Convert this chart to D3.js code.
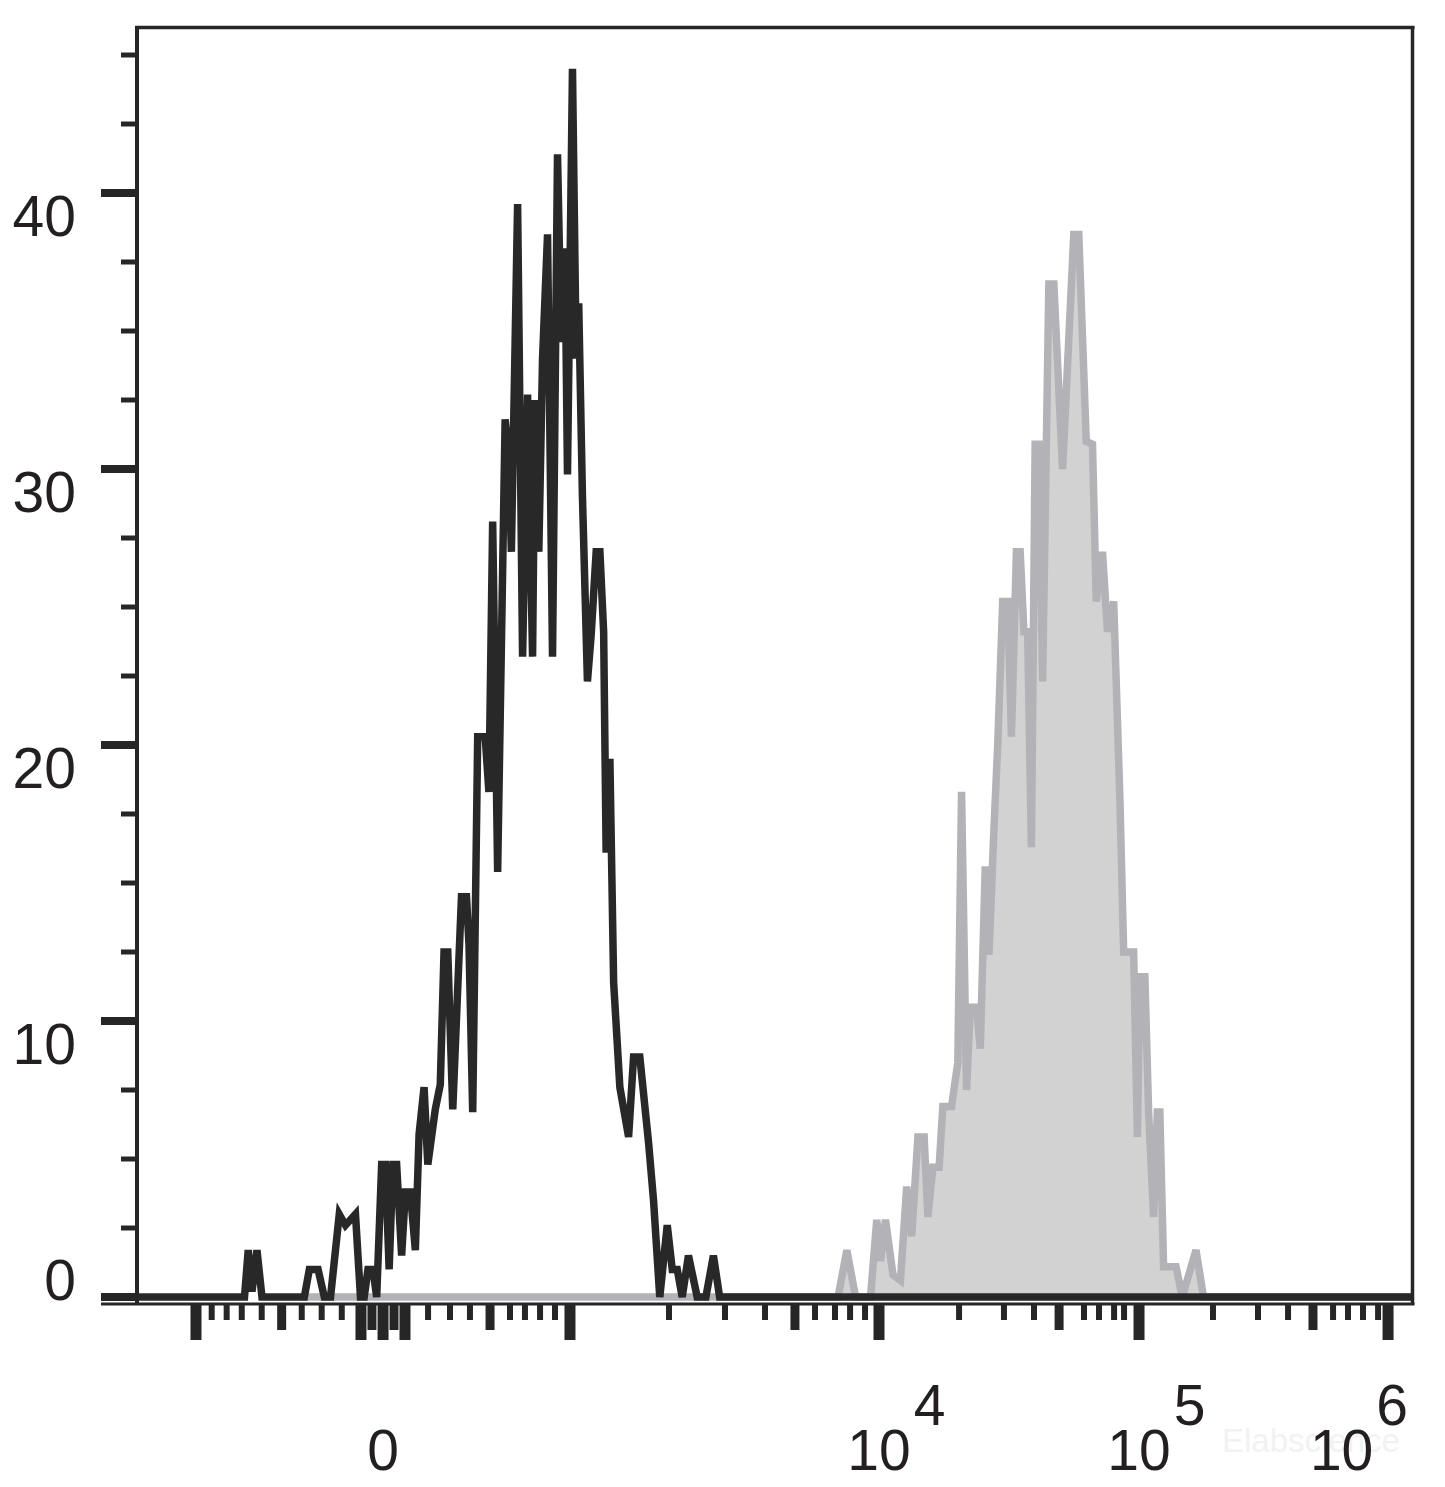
<!DOCTYPE html>
<html><head><meta charset="utf-8">
<script src="https://cdn.jsdelivr.net/npm/d3@7/dist/d3.min.js"></script>
<style>html,body{margin:0;padding:0;background:#fff;} svg{display:block;}</style>
</head><body>
<svg id="chart" width="1445" height="1487"></svg>
<script>
// ---- DATA (x in display channels 0..1024, y = count) ----
const blackHist = [[0,0],[87,0],[90,1.7],[93,0.2],[97,1.7],[101,0],[135,0],[139,1],[146,1],[151,0],[156,0],[163,3],[168,2.6],[176,3],[180,0],[183,0],[186,1],[190,1],[193,0],[197,4.8],[200,4.8],[203,1],[206,4.8],[209,4.8],[213,1.5],[216,3.8],[220,3.8],[224,1.7],[227,5.9],[231,7.6],[234,4.8],[240,6.8],[244,7.7],[247,12.5],[250,12.5],[254,6.8],[261,14.5],[265,14.5],[267,12.8],[270,6.7],[274,20.3],[280,20.3],[283,18.3],[286,28.1],[290,15.4],[296,31.8],[299,30.5],[301,27],[306,39.6],[310,23.2],[314,32.7],[318,23.2],[320,32.5],[323,27],[326,34],[330,38.5],[334,23.2],[338,41.4],[341,34.6],[344,38],[346,29.8],[350,44.5],[353,34],[355,36],[358,29],[362,22.3],[365,24],[369,27],[372,27],[375,24.1],[377,16.1],[380,19.5],[383,11.4],[388,7.6],[395,5.8],[399,8.7],[404,8.7],[411,5.6],[415,3.5],[420,0],[426,2.6],[430,1],[434,1],[438,0],[443,1.5],[450,0],[457,0],[463,1.5],[468,0],[1024,0]];
const grayHist = [[132,0],[563,0],[570,1.7],[577,0],[589,0],[594,2.8],[597,1.3],[601,2.8],[607,0.8],[613,0.6],[618,4],[622,2.2],[627,5.8],[632,5.8],[635,2.9],[639,4.7],[644,4.7],[647,6.9],[654,6.9],[659,8.5],[662,18.3],[666,7.5],[669,10.5],[674,10.5],[677,9],[681,15.6],[684,12.4],[688,17],[691,20],[695,25.2],[699,25.2],[702,20.3],[706,27],[709,27],[712,24.1],[715,24.1],[718,16.3],[721,30.9],[724,30.9],[727,22.3],[732,36.7],[736,36.7],[743,30],[752,38.5],[756,38.5],[762,31],[767,30.9],[770,25.2],[775,27],[779,24.1],[784,25.2],[789,18],[792,12.5],[800,12.5],[803,5.8],[805,11.6],[809,11.6],[812,6.7],[816,2.9],[819,6.7],[821,6.7],[824,1.1],[834,1.1],[839,0],[850,1.7],[856,0],[1024,0]];

const yMajorTicks = [0, 10, 20, 30, 40];
const yMinorTicks = [2.5, 5, 7.5, 12.5, 15, 17.5, 22.5, 25, 27.5, 32.5, 35, 37.5, 42.5, 45];
const yTickLabels = ["0", "10", "20", "30", "40"];

const xLongTicks = [48.1, 180.4, 198.1, 215.7, 348.0, 595.8, 804.3, 1004.0];
const xMediumTicks = [116.8, 189.2, 206.9, 283.9, 528.4, 740.2, 943.8];
const xShortTicks = [60.7, 72.7, 84.8, 100.8, 132.9, 148.9, 165.0, 234.2, 251.8, 267.8, 299.9, 311.9, 324.0, 336.0, 427.4, 472.3, 504.4, 544.5, 560.5, 572.6, 584.6, 660.0, 696.0, 720.1, 760.2, 772.2, 784.3, 792.3, 863.6, 899.7, 923.8, 959.9, 971.9, 983.9, 996.0];
const xTickLabels = [
  {ch: 198.1, base: "0", exp: null},
  {ch: 595.8, base: "10", exp: "4"},
  {ch: 804.3, base: "10", exp: "5"},
  {ch: 1004.0, base: "10", exp: "6"}
];
const watermark = "Elabscience";

// ---- LAYOUT ----
const svg = d3.select("#chart");
const L = 136, R = 1413, T = 27.5;
const x = d3.scaleLinear().domain([0, 1024]).range([L, R]);
const y = d3.scaleLinear().domain([0, 46]).range([1297, 27.4]);
const ink = "#262626";
const font = "'Liberation Sans', Arial, Helvetica, sans-serif";

// watermark (faint, behind everything)
svg.append("text").attr("x", 1222).attr("y", 1452)
  .attr("font-family", font).attr("font-size", 33).attr("fill", "#f2f2f2").text(watermark);

// gray filled histogram
svg.append("path").datum(grayHist)
  .attr("d", d3.area().x(d => x(d[0])).y0(y(0)).y1(d => y(d[1])))
  .attr("fill", "#d2d2d2").attr("stroke", "none");
svg.append("path").datum(grayHist)
  .attr("d", d3.line().x(d => x(d[0])).y(d => y(d[1])))
  .attr("fill", "none").attr("stroke", "#b3b3b7").attr("stroke-width", 7.5);

// black histogram
svg.append("path").datum(blackHist)
  .attr("d", d3.line().x(d => x(d[0])).y(d => y(d[1])))
  .attr("fill", "none").attr("stroke", "#282828").attr("stroke-width", 7.5);

// frame
const frame = svg.append("g").attr("stroke", ink).attr("fill", "none");
frame.append("line").attr("x1", L - 1).attr("x2", R + 1.5).attr("y1", T).attr("y2", T).attr("stroke-width", 3.5);
frame.append("line").attr("x1", R - 0.5).attr("x2", R - 0.5).attr("y1", T - 1.5).attr("y2", 1305).attr("stroke-width", 3.5);
frame.append("line").attr("x1", L + 1).attr("x2", L + 1).attr("y1", T - 1.5).attr("y2", 1305).attr("stroke-width", 4);
frame.append("line").attr("x1", 101).attr("x2", R + 1.5).attr("y1", 1304).attr("y2", 1304).attr("stroke-width", 3);

// y ticks
const yt = svg.append("g").attr("stroke", ink);
yt.selectAll(".ymaj").data(yMajorTicks).join("line")
  .attr("x1", 101).attr("x2", L + 1).attr("y1", d => y(d)).attr("y2", d => y(d)).attr("stroke-width", 8);
yt.selectAll(".ymin").data(yMinorTicks).join("line")
  .attr("x1", 121).attr("x2", L + 1).attr("y1", d => y(d)).attr("y2", d => y(d)).attr("stroke-width", 5);

svg.append("g").selectAll("text").data(yMajorTicks).join("text")
  .attr("x", 76).attr("y", d => d === 0 ? y(d) + 3 : y(d) + 43)
  .attr("text-anchor", "end").attr("font-family", font).attr("font-size", 57).attr("fill", "#231f20")
  .text((d, i) => yTickLabels[i]);

// x ticks
const xt = svg.append("g").attr("stroke", ink);
const tickSets = [[xShortTicks, 1320, 6], [xMediumTicks, 1330, 9], [xLongTicks, 1340, 11]];
tickSets.forEach(([vals, end, w]) => {
  xt.append("g").selectAll("line").data(vals).join("line")
    .attr("x1", d => x(d)).attr("x2", d => x(d)).attr("y1", 1304).attr("y2", end).attr("stroke-width", w);
});

// x labels
xTickLabels.forEach(l => {
  const cx = x(l.ch);
  const g = svg.append("g").attr("font-family", font).attr("font-size", 57).attr("fill", "#231f20");
  const base = g.append("text").attr("x", 0).attr("y", 1470).text(l.base);
  const bw = base.node().getComputedTextLength();
  let ew = 0;
  if (l.exp) {
    const e = g.append("text").attr("x", bw + 3).attr("y", 1425).text(l.exp);
    ew = e.node().getComputedTextLength() + 3;
  }
  let left = cx - bw / 2;
  if (left + bw + ew > 1408) left = 1408 - bw - ew;
  g.attr("transform", `translate(${left},0)`);
});
</script>
</body></html>
